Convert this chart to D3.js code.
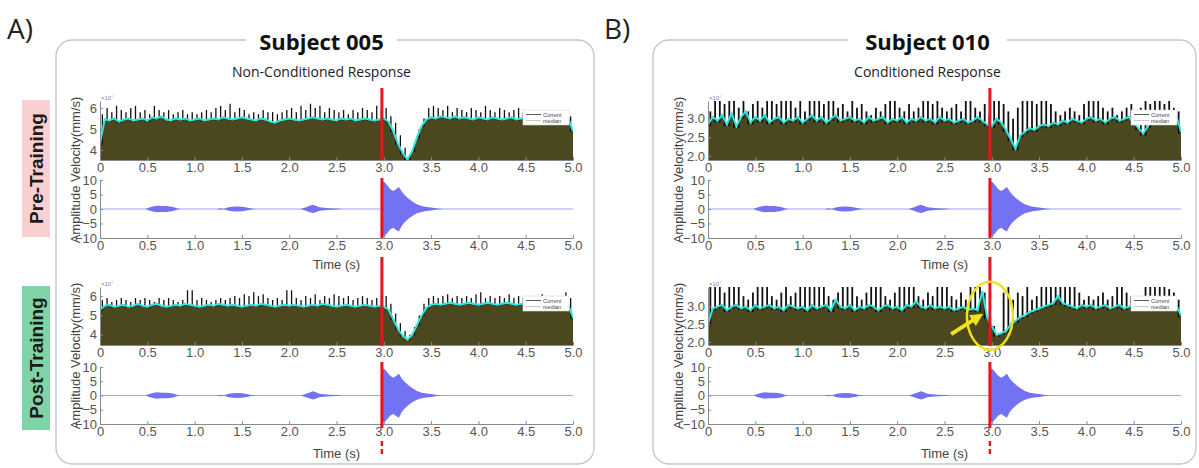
<!DOCTYPE html>
<html lang="en">
<head>
<meta charset="utf-8">
<title>Subject 005 / Subject 010 - velocity and stimulus amplitude</title>
<script src="https://cdn.jsdelivr.net/npm/d3@7"></script>
<style>
  body { margin: 0; background: #fff; }
</style>
</head>
<body>
<script>

//Width and height
var w = 1199;
var h = 468;

//Time axis (seconds), samples every 0.05 s
var stepT = 0.05;
var timeTicks = [0, 0.5, 1.0, 1.5, 2.0, 2.5, 3.0, 3.5, 4.0, 4.5, 5.0];
var stimT = 2.98; // red marker

//Subject 005, pre-training: median (cyan) and current spikes (black), x10^7 mm/s
var medA1 = [
  4.3,5.45,5.4,5.5,5.35,5.45,5.5,5.4,5.45,5.5,
  5.4,5.55,5.5,5.6,5.45,5.4,5.5,5.45,5.5,5.4,
  5.45,5.5,5.4,5.45,5.5,5.45,5.55,5.5,5.45,5.5,
  5.55,5.5,5.45,5.4,5.5,5.45,5.35,5.3,5.4,5.45,
  5.5,5.45,5.4,5.45,5.5,5.55,5.5,5.45,5.5,5.45,
  5.4,5.5,5.45,5.5,5.4,5.45,5.5,5.45,5.4,5.45,
  5.5,5.35,4.9,4.3,3.85,3.55,3.95,4.6,5.15,5.45,
  5.55,5.5,5.6,5.55,5.5,5.6,5.5,5.55,5.5,5.45,
  5.55,5.5,5.45,5.55,5.5,5.45,5.5,5.55,5.45,5.5,
  5.55,5.5,5.45,5.5,5.55,5.5,5.45,5.5,5.55,5.5,
  4.9];
var spkA1 = [
  5.7,6.0,5.8,6.1,5.9,5.8,6.0,6.1,5.8,5.9,
  5.7,6.1,5.9,5.8,5.9,5.7,5.8,5.9,5.7,5.8,
  5.7,5.8,5.9,5.8,6.0,6.1,5.9,6.2,5.8,6.0,
  5.9,5.7,5.8,5.7,5.9,5.8,5.8,5.7,5.8,5.9,
  6.0,5.8,6.1,5.9,6.2,6.0,6.1,5.8,6.0,5.9,
  5.8,5.9,5.7,5.9,5.8,6.0,5.9,5.8,6.1,5.9,
  6.0,5.6,5.3,4.7,4.1,3.8,4.3,5.0,5.5,6.0,
  6.1,6.0,5.9,6.1,5.8,6.0,5.9,5.8,6.0,5.9,
  5.8,6.1,5.9,5.8,6.0,5.9,5.8,5.9,6.0,5.8,
  5.7,5.8,5.9,5.7,5.8,5.7,5.8,5.9,5.7,5.6];

//Subject 005, post-training
var medA2 = [
  5.3,5.5,5.55,5.45,5.5,5.55,5.45,5.5,5.6,5.5,
  5.45,5.55,5.6,5.5,5.45,5.5,5.55,5.5,5.6,5.55,
  5.5,5.45,5.5,5.55,5.5,5.6,5.55,5.5,5.55,5.5,
  5.45,5.5,5.55,5.5,5.6,5.55,5.5,5.45,5.5,5.55,
  5.5,5.55,5.5,5.45,5.5,5.55,5.5,5.6,5.55,5.5,
  5.45,5.5,5.55,5.5,5.45,5.5,5.55,5.5,5.45,5.5,
  5.45,5.3,4.8,4.3,3.95,3.75,4.0,4.5,5.0,5.4,
  5.55,5.6,5.55,5.6,5.65,5.6,5.55,5.6,5.65,5.6,
  5.55,5.6,5.65,5.6,5.55,5.6,5.65,5.6,5.55,5.6,
  5.6,5.55,5.6,5.65,5.6,5.55,5.6,5.65,5.6,5.55,
  4.9];
var spkA2 = [
  5.8,5.9,5.7,5.8,5.9,5.8,5.7,5.9,5.8,5.9,
  5.8,5.7,5.9,5.8,5.9,5.8,5.7,5.8,6.3,6.3,
  5.8,5.9,5.8,5.7,5.8,5.9,5.8,5.9,6.0,5.9,
  6.1,6.0,6.2,6.0,6.1,5.9,5.8,5.9,5.8,6.3,
  6.3,5.9,5.8,6.0,5.9,6.1,5.8,6.0,5.9,6.1,
  6.0,5.9,6.0,5.8,5.9,6.0,5.9,5.8,5.9,6.0,
  6.0,5.6,5.1,4.6,4.2,4.0,4.4,5.0,5.6,5.9,
  6.0,5.9,6.0,6.1,5.9,6.0,5.9,6.0,5.9,6.1,
  6.2,5.9,6.0,5.9,6.0,5.9,6.1,5.9,6.0,5.9,
  6.0,5.9,6.0,6.1,5.9,6.0,5.9,6.0,6.2,5.9];

//Subject 010, pre-training
var medB1 = [
  2.85,3.05,2.95,3.1,2.85,3.15,2.8,3.05,3.2,2.9,
  3.05,2.95,3.1,2.9,3.0,3.05,2.9,3.0,2.95,3.05,
  2.9,3.0,3.1,2.95,3.05,2.9,3.0,3.1,2.95,3.0,
  3.05,2.95,3.0,2.9,3.05,2.95,3.0,3.05,2.9,3.0,
  2.95,3.05,2.9,3.0,2.95,3.05,2.95,3.0,2.9,3.05,
  2.95,3.0,2.9,2.95,3.0,2.9,2.95,3.05,2.95,2.85,
  2.8,3.0,2.9,2.7,2.45,2.2,2.55,2.65,2.75,2.7,
  2.8,2.85,2.8,2.9,2.85,2.95,2.9,3.0,2.95,2.9,
  3.0,3.05,2.95,3.0,2.9,3.0,3.05,2.95,3.0,3.05,
  2.9,2.75,2.6,2.8,3.0,2.95,3.0,3.05,3.0,3.1,
  2.65];
var spkB1 = [
  3.2,3.5,3.5,3.4,3.5,3.5,3.3,3.5,3.2,3.4,
  3.5,3.3,3.5,3.5,3.4,3.5,3.5,3.5,3.3,3.5,
  3.2,3.5,3.5,3.5,3.4,3.5,3.5,3.3,3.4,3.2,
  3.5,3.3,3.4,3.2,3.1,3.3,3.2,3.4,3.5,3.5,
  3.3,3.2,3.4,3.2,3.3,3.5,3.5,3.4,3.5,3.3,
  3.2,3.3,3.4,3.2,3.5,3.5,3.3,3.2,3.4,3.1,
  3.5,3.5,3.4,3.2,3.0,3.3,3.5,3.5,3.5,3.4,
  3.5,3.5,3.4,3.2,3.1,3.2,3.3,3.2,3.1,3.4,
  3.5,3.5,3.5,3.3,3.2,3.3,3.1,3.2,3.3,3.4,
  3.2,3.3,3.5,3.4,3.5,3.5,3.4,3.5,3.3,3.2];

//Subject 010, post-training
var medB2 = [
  2.5,2.95,3.0,3.05,2.9,3.0,3.05,2.95,3.0,2.9,
  3.05,2.95,3.0,3.05,2.95,3.0,2.9,3.05,3.0,2.95,
  3.0,2.9,3.05,2.95,3.0,3.05,2.9,3.2,3.0,2.95,
  3.05,2.9,3.0,2.95,3.05,3.0,2.9,3.0,3.05,2.95,
  3.0,2.9,3.05,3.0,3.15,3.0,2.95,3.05,2.95,3.0,
  2.95,3.0,2.9,2.95,3.0,2.9,2.95,2.9,3.45,2.7,
  2.45,2.2,2.25,2.3,2.5,2.6,2.7,2.75,2.85,2.9,
  2.95,3.0,3.05,3.1,3.3,3.1,3.05,3.0,2.95,3.05,
  3.0,3.05,2.95,3.0,3.05,2.95,3.0,3.05,2.95,3.0,
  3.05,3.0,2.95,3.0,3.05,3.0,2.95,3.05,3.0,3.05,
  2.75];
var spkB2 = [
  3.6,3.6,3.6,3.4,3.6,3.6,3.6,3.3,3.2,3.4,
  3.6,3.6,3.6,3.3,3.2,3.4,3.6,3.3,3.4,3.6,
  3.6,3.6,3.6,3.6,3.6,3.3,3.2,3.4,3.6,3.6,
  3.6,3.3,3.2,3.4,3.6,3.6,3.6,3.3,3.2,3.4,
  3.6,3.6,3.6,3.6,3.3,3.2,3.4,3.3,3.6,3.6,
  3.6,3.3,3.2,3.4,3.2,3.6,3.6,3.6,3.4,2.7,
  2.45,2.2,3.4,3.6,3.2,3.4,3.3,3.6,3.2,3.3,
  3.6,3.6,3.6,3.6,3.6,3.6,3.6,3.6,3.4,3.2,
  3.3,3.2,3.3,3.4,3.2,3.3,3.6,3.6,3.4,3.3,
  3.2,3.3,3.6,3.6,3.6,3.6,3.6,3.5,3.4,3.2];

//Tone amplitude envelope (same stimulus in every trial)
var ampT  = [0,0.48,0.52,0.56,0.6,0.65,0.7,0.74,0.78,0.82,0.86,
             1.24,1.27,1.29,1.32,1.36,1.4,1.45,1.5,1.55,1.6,1.65,
             2.12,2.17,2.21,2.25,2.28,2.32,2.37,2.43,2.5,2.56,
             2.975,2.985,3.01,3.04,3.07,3.1,3.13,3.16,3.19,3.22,3.26,3.3,3.35,3.4,3.45,3.5,3.55,3.62,5.0];
var ampHi = [0,0,0.5,0.9,1.1,1.0,1.0,0.9,0.6,0.2,0,
             0,0.3,0.1,0.2,0.6,0.8,0.9,0.8,0.5,0.2,0,
             0,0.5,1.0,1.5,1.1,0.6,0.4,0.3,0.15,0,
             0,9.6,9.2,8.0,6.8,6.2,6.8,7.6,6.0,4.8,3.6,2.6,1.6,1.0,0.7,0.5,0.3,0,0];
var ampLo = [0,0,-0.5,-0.9,-1.1,-1.0,-1.0,-0.9,-0.6,-0.2,0,
             0,-0.3,-0.1,-0.2,-0.6,-0.8,-0.9,-0.8,-0.5,-0.2,0,
             0,-0.5,-1.0,-1.4,-1.1,-0.6,-0.4,-0.3,-0.15,0,
             0,-9.5,-9.3,-8.2,-7.0,-6.5,-7.2,-7.8,-5.8,-4.6,-3.4,-2.4,-1.5,-1.0,-0.7,-0.5,-0.3,0,0];
var ampTicks = [-10, -5, 0, 5, 10];

//Colours
var olive = "#4b4820";
var cyan = "#2fe6e0";
var blue = "#7272f2";
var red = "#e3161f";
var axisGrey = "#8a8a8a";
var font = "'Liberation Sans', Arial, sans-serif";

//Create SVG element
var svg = d3.select("body")
            .append("svg")
            .attr("width", w)
            .attr("height", h)
            .style("font-family", font);

var defs = svg.append("defs");
var clipCount = 0;

function addClip(x0, x1, y0, y1) {
  var id = "clip" + (clipCount++);
  defs.append("clipPath").attr("id", id)
      .append("rect")
      .attr("x", x0).attr("y", y0)
      .attr("width", x1 - x0).attr("height", y1 - y0);
  return "url(#" + id + ")";
}

defs.append("marker")
    .attr("id", "arrowHead")
    .attr("viewBox", "0 0 10 10")
    .attr("refX", 4).attr("refY", 5)
    .attr("markerWidth", 3.2).attr("markerHeight", 3.2)
    .attr("orient", "auto")
    .append("path")
    .attr("d", "M0,0 L10,5 L0,10 z")
    .attr("fill", "#f2e21a");

function timeFmt(d) {
  return d === 0 ? "0" : d3.format(".1f")(d);
}

function styleAxis(g) {
  g.select(".domain").attr("stroke", axisGrey);
  g.selectAll(".tick line").attr("stroke", axisGrey);
  g.selectAll(".tick text")
   .attr("fill", "#555")
   .attr("font-size", "13px")
   .attr("font-family", font);
}

function drawLegend(xRight, yTop) {
  var g = svg.append("g").attr("transform", "translate(" + (xRight - 46) + "," + yTop + ")");
  g.append("rect").attr("width", 46).attr("height", 15)
   .attr("fill", "#fff").attr("stroke", "#d8d8d8").attr("stroke-width", 0.6);
  g.append("line").attr("x1", 3).attr("x2", 18).attr("y1", 4.5).attr("y2", 4.5)
   .attr("stroke", "#333").attr("stroke-width", 0.8);
  g.append("line").attr("x1", 3).attr("x2", 18).attr("y1", 10.5).attr("y2", 10.5)
   .attr("stroke", "#bbb").attr("stroke-width", 0.8);
  g.append("text").attr("x", 20).attr("y", 6.5).text("Current")
   .attr("font-size", "5.5px").attr("fill", "#444");
  g.append("text").attr("x", 20).attr("y", 12.5).text("median")
   .attr("font-size", "5.5px").attr("fill", "#444");
}

function drawVelocity(x, y0, y1, dom, yTicks, yFmt, med, spk, spikeW) {
  var y = d3.scaleLinear().domain(dom).range([y1, y0]);
  var x0 = x.range()[0], x1 = x.range()[1];
  var plot = svg.append("g").attr("clip-path", addClip(x0, x1, y0, y1));

  //olive area under the trace
  plot.append("path")
      .datum(med)
      .attr("d", d3.area()
                   .x(function(d, i) { return x(i * stepT); })
                   .y0(y1)
                   .y1(function(d) { return y(d); }))
      .attr("fill", olive);

  //current spikes (black), one between each pair of median samples
  plot.selectAll(null)
      .data(spk)
      .enter()
      .append("line")
      .attr("x1", function(d, i) { return x((i + 0.5) * stepT); })
      .attr("x2", function(d, i) { return x((i + 0.5) * stepT); })
      .attr("y1", function(d, i) { return y(Math.min(med[i], med[i + 1]) - 0.05); })
      .attr("y2", function(d) { return y(d); })
      .attr("stroke", "#111")
      .attr("stroke-width", spikeW);

  //median (cyan)
  plot.append("path")
      .datum(med)
      .attr("d", d3.line()
                   .x(function(d, i) { return x(i * stepT); })
                   .y(function(d) { return y(d); }))
      .attr("fill", "none")
      .attr("stroke", cyan)
      .attr("stroke-width", 2);

  svg.append("g")
     .attr("transform", "translate(0," + y1 + ")")
     .call(d3.axisBottom(x).tickValues(timeTicks).tickFormat(timeFmt)
             .tickSize(-3).tickSizeOuter(0).tickPadding(3))
     .call(styleAxis);
  svg.append("g")
     .attr("transform", "translate(" + x0 + ",0)")
     .call(d3.axisLeft(y).tickValues(yTicks).tickFormat(yFmt)
             .tickSize(-3).tickSizeOuter(0).tickPadding(3))
     .call(styleAxis);

  //x10^7 exponent
  svg.append("text")
     .attr("x", x0 + 1).attr("y", y0 - 1)
     .attr("font-size", "6px").attr("fill", "#888")
     .text("\u00d710\u2077");

  drawLegend(x1 - 4, y0 + 9);
  return y;
}

function drawAmplitude(x, y0, y1, timeLabelY) {
  var y = d3.scaleLinear().domain([-10, 10]).range([y1, y0]);
  var x0 = x.range()[0], x1 = x.range()[1];
  var plot = svg.append("g").attr("clip-path", addClip(x0, x1, y0 - 2, y1));

  //baseline
  plot.append("path")
      .datum([0, 5])
      .attr("d", d3.line().x(function(d) { return x(d); }).y(y(0)))
      .attr("stroke", "#a4a4ff").attr("stroke-width", 1.2).attr("fill", "none");

  //envelope
  plot.append("path")
      .datum(ampT)
      .attr("d", d3.area()
                   .x(function(d) { return x(d); })
                   .y0(function(d, i) { return y(ampLo[i]); })
                   .y1(function(d, i) { return y(ampHi[i]); }))
      .attr("fill", blue);

  svg.append("g")
     .attr("transform", "translate(0," + y1 + ")")
     .call(d3.axisBottom(x).tickValues(timeTicks).tickFormat(timeFmt)
             .tickSize(-3).tickSizeOuter(0).tickPadding(3))
     .call(styleAxis);
  svg.append("g")
     .attr("transform", "translate(" + x0 + ",0)")
     .call(d3.axisLeft(y).tickValues(ampTicks).tickFormat(d3.format("d"))
             .tickSize(-3).tickSizeOuter(0).tickPadding(3))
     .call(styleAxis);

  svg.append("text")
     .attr("x", (x0 + x1) / 2).attr("y", timeLabelY)
     .attr("text-anchor", "middle")
     .attr("font-size", "13px").attr("fill", "#444")
     .text("Time (s)");
  return y;
}

function drawPanelBox(x0, x1, y0, y1, gapL, gapR, label, title, subtitle) {
  var r = 16;
  var p = d3.path();
  p.moveTo(gapL, y0);
  p.lineTo(x0 + r, y0);
  p.arcTo(x0, y0, x0, y0 + r, r);
  p.lineTo(x0, y1 - r);
  p.arcTo(x0, y1, x0 + r, y1, r);
  p.lineTo(x1 - r, y1);
  p.arcTo(x1, y1, x1, y1 - r, r);
  p.lineTo(x1, y0 + r);
  p.arcTo(x1, y0, x1 - r, y0, r);
  p.lineTo(gapR, y0);
  svg.append("path").attr("d", p.toString())
     .attr("fill", "none").attr("stroke", "#c6c6c6").attr("stroke-width", 1.3);

  svg.append("text").attr("x", x0 - 49).attr("y", 39)
     .attr("font-family", "'Open Sans', sans-serif")
     .attr("font-size", "28px").attr("fill", "#222").text(label);
  svg.append("text").attr("x", (gapL + gapR) / 2).attr("y", 50)
     .attr("text-anchor", "middle")
     .attr("font-family", "'Open Sans', sans-serif").attr("font-weight", "bold")
     .attr("font-size", "22px").attr("fill", "#111").text(title);
  svg.append("text").attr("x", (gapL + gapR) / 2).attr("y", 77)
     .attr("text-anchor", "middle")
     .attr("font-family", "'Open Sans', sans-serif")
     .attr("font-size", "14px").attr("fill", "#222").text(subtitle);
}

function yLabel(x, yc) {
  svg.append("text")
     .attr("transform", "translate(" + x + "," + yc + ") rotate(-90)")
     .attr("text-anchor", "middle")
     .attr("font-size", "13px").attr("fill", "#444")
     .text("Amplitude  Velocity(mm/s)");
}

function redMarker(x) {
  var segs = [[88, 160], [178, 238], [257, 346], [362, 428]];
  segs.forEach(function(s) {
    svg.append("line").attr("x1", x).attr("x2", x).attr("y1", s[0]).attr("y2", s[1])
       .attr("stroke", red).attr("stroke-width", 3);
  });
  svg.append("line").attr("x1", x).attr("x2", x).attr("y1", 441).attr("y2", 454)
     .attr("stroke", red).attr("stroke-width", 2.5).attr("stroke-dasharray", "5,3");
}

//Panel A: Subject 005
drawPanelBox(56, 594, 40, 464, 246, 397, "A)", "Subject 005", "Non-Conditioned Response");
var xA = d3.scaleLinear().domain([0, 5]).range([100, 573]);
drawVelocity(xA, 101, 160, [3.52, 6.33], [4, 5, 6], d3.format("d"), medA1, spkA1, 1.3);
drawAmplitude(xA, 180, 238, 269);
drawVelocity(xA, 287, 345, [3.47, 6.47], [4, 5, 6], d3.format("d"), medA2, spkA2, 1.3);
drawAmplitude(xA, 367, 424, 458);
yLabel(80, 170);
yLabel(80, 356);
redMarker(xA(stimT));

//Panel B: Subject 010
drawPanelBox(653, 1196, 40, 464, 848, 1007, "B)", "Subject 010", "Conditioned Response");
var xB = d3.scaleLinear().domain([0, 5]).range([708, 1181]);
drawVelocity(xB, 101, 160, [1.89, 3.48], [2.0, 2.5, 3.0], d3.format(".1f"), medB1, spkB1, 1.8);
drawAmplitude(xB, 180, 238, 269);
var yB2 = drawVelocity(xB, 287, 345, [1.91, 3.56], [2.0, 2.5, 3.0], d3.format(".1f"), medB2, spkB2, 1.8);
drawAmplitude(xB, 367, 424, 458);
yLabel(683, 170);
yLabel(683, 356);
redMarker(xB(stimT));

//Highlight of the dip in the post-training conditioned trial
svg.append("ellipse")
   .attr("cx", xB(2.98)).attr("cy", yB2(2.74))
   .attr("rx", 23).attr("ry", 34)
   .attr("fill", "none").attr("stroke", "#f2e21a").attr("stroke-width", 2.5);
svg.append("line")
   .attr("x1", xB(2.57)).attr("y1", yB2(2.22))
   .attr("x2", xB(2.84)).attr("y2", yB2(2.68))
   .attr("stroke", "#f2e21a").attr("stroke-width", 4)
   .attr("marker-end", "url(#arrowHead)");

//Row labels
var rows = [["Pre-Training", 100, 237, "#f9cfcf"], ["Post-Training", 286, 430, "#7fd3a6"]];
rows.forEach(function(r) {
  svg.append("rect").attr("x", 22).attr("y", r[1]).attr("width", 28).attr("height", r[2] - r[1])
     .attr("fill", r[3]);
  svg.append("text")
     .attr("transform", "translate(43," + (r[1] + r[2]) / 2 + ") rotate(-90)")
     .attr("text-anchor", "middle")
     .attr("font-weight", "bold").attr("font-size", "19px").attr("fill", "#1a1a1a")
     .text(r[0]);
});

</script>
</body>
</html>
